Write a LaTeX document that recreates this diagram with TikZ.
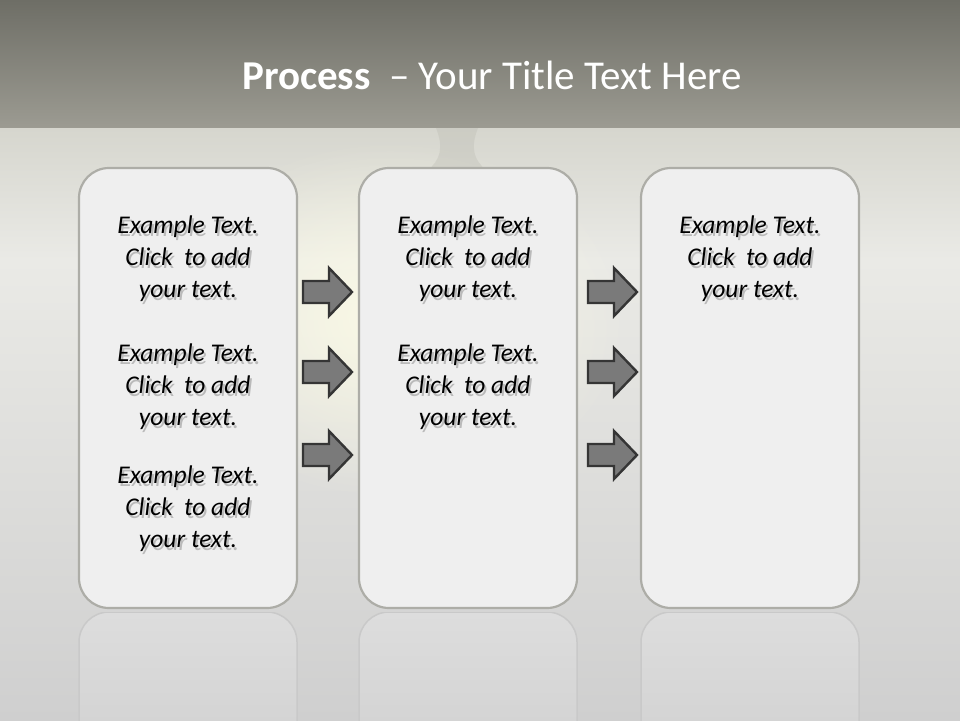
\documentclass[tikz,border=0pt]{standalone}
\usepackage{fontspec}
\setmainfont{Carlito}
\usetikzlibrary{shadings,fadings}
\tikzfading[name=softglow, inner color=transparent!0, outer color=transparent!100]
\definecolor{bandtop}{HTML}{6E6E66}
\definecolor{bandbot}{HTML}{9C9B92}
\definecolor{lowtop}{HTML}{D6D6CE}
\definecolor{lowmid}{HTML}{EAEAE6}
\definecolor{lowbot}{HTML}{CFCFCF}
\definecolor{boxfill}{HTML}{EFEFEF}
\definecolor{boxline}{HTML}{ADADA7}
\definecolor{arrfill}{HTML}{7A7A7A}
\definecolor{arrline}{HTML}{353535}
\definecolor{reflfill}{HTML}{DDDDDD}
\definecolor{refledge}{HTML}{C9C9C9}
\tikzset{
  stagebox/.style={draw=boxline, line width=2.2pt, fill=boxfill, rounded corners=30pt,
    minimum width=218pt, minimum height=440pt, inner sep=0pt},
  reflbox/.style={draw=refledge, line width=1.5pt, top color=reflfill, bottom color=lowbot!95!black,
    rounded corners=30pt, minimum width=218pt, minimum height=300pt, inner sep=0pt},
  arrowshape/.style={draw=arrline, line width=2.4pt, fill=arrfill, line join=miter},
  bodytext/.style={align=center, font=\fontsize{25.5}{32}\selectfont\itshape, text=black},
  shadowtext/.style={bodytext, text=black, opacity=0.22},
  titletext/.style={font=\fontsize{41}{48}\selectfont, text=white}
}
\newcommand{\blocktext}{Example Text.\\Click\ \ to add\\your text.}
\newcommand{\textblock}[3]{%
  \node[shadowtext] at (#1+2,#2+3) {\blocktext};
  \node[bodytext] (#3) at (#1,#2) {\blocktext};}
\newcommand{\flowarrow}[1]{%
  \draw[arrowshape, shift={(#1)}] (-24.5,-11) -- (1.5,-11) -- (1.5,-24) -- (24.5,0)
     -- (1.5,24) -- (1.5,11) -- (-24.5,11) -- cycle;}
\begin{document}
\begin{tikzpicture}[x=1pt,y=-1pt]
\useasboundingbox (0,0) rectangle (960,720);
% background
\shade[top color=bandtop, bottom color=bandbot] (0,0) rectangle (960,128);
\shade[top color=lowtop, bottom color=lowmid] (0,128) rectangle (960,260);
\shade[top color=lowmid, bottom color=lowbot] (0,260) rectangle (960,720);
\fill[white!90!yellow, path fading=softglow, opacity=0.8] (390,320) ellipse (240 and 180);
% faint silhouette
\fill[bandbot!55!lowtop, opacity=0.3] (436,128) .. controls (444,148) and (440,160) .. (428,170) -- (486,170) .. controls (474,160) and (470,148) .. (478,128) -- cycle;
% reflections
\begin{scope}
\clip (0,612) rectangle (960,720);
\node[reflbox] (r1) at (188,762) {};
\node[reflbox] (r2) at (468,762) {};
\node[reflbox] (r3) at (750,762) {};
\end{scope}
% boxes
\node[stagebox] (b1) at (188,388) {};
\node[stagebox] (b2) at (468,388) {};
\node[stagebox] (b3) at (750,388) {};
% title
\node[titletext] (title) at (492,75) {\textbf{Process}\ \ – Your Title Text Here};
% texts
\textblock{188}{259}{t11}
\textblock{188}{387}{t12}
\textblock{188}{509}{t13}
\textblock{468}{259}{t21}
\textblock{468}{387}{t22}
\textblock{750}{259}{t31}
% arrows
\coordinate (a11) at (327.5,292);
\coordinate (a12) at (327.5,372);
\coordinate (a13) at (327.5,455);
\coordinate (a21) at (612.5,292);
\coordinate (a22) at (612.5,372);
\coordinate (a23) at (612.5,455);
\flowarrow{a11}\flowarrow{a12}\flowarrow{a13}
\flowarrow{a21}\flowarrow{a22}\flowarrow{a23}
\end{tikzpicture}
\end{document}
